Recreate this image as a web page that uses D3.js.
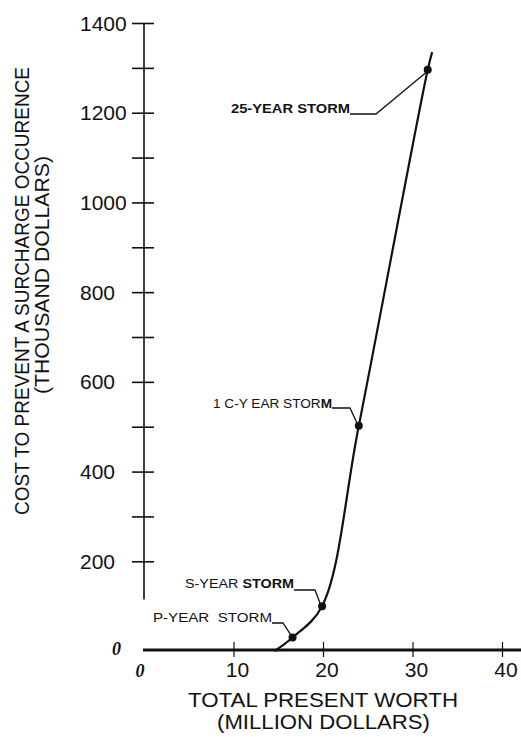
<!DOCTYPE html>
<html>
<head>
<meta charset="utf-8">
<script src="https://cdn.jsdelivr.net/npm/d3@7"></script>
<style>
  html, body { margin: 0; padding: 0; background: #fff; }
  svg { display: block; }
  text { font-family: "Liberation Sans", Arial, sans-serif; fill: #111; }
</style>
</head>
<body>
<svg id="chart" width="521" height="737"></svg>
<script>
// ---- data ----
const stormLabels = ["P-YEAR  STORM", "S-YEAR STORM", "1 C-Y EAR STORM", "25-YEAR STORM"];
const stormWorth = [16.6, 19.9, 24.0, 31.7];      // million dollars
const stormCost = [30, 100, 502, 1296];           // thousand dollars
const curveWorth = [14.6, 16.6, 19.9, 24.0, 31.7, 32.2];
const curveCost = [0, 30, 100, 502, 1296, 1335];
const xTickValues = [10, 20, 30, 40];
const yTickLabels = [200, 400, 600, 800, 1000, 1200, 1400];
const yTickMarks = [200, 300, 400, 500, 600, 700, 800, 900, 1000, 1100, 1200, 1300, 1400];
const xTitle = ["TOTAL PRESENT WORTH", "(MILLION DOLLARS)"];
const yTitle = ["COST TO PREVENT A SURCHARGE OCCURENCE", "(THOUSAND DOLLARS)"];

// ---- layout ----
const svg = d3.select("#chart");
const x = d3.scaleLinear().domain([0, 40]).range([144, 502]);
const y = d3.scaleLinear().domain([0, 1400]).range([651, 23]);

// label layout: text left x, baseline y, text length, elbow end x/y
const labelLayout = [
  { tx: 153, ty: 622, len: 119, ex: 283, ey: 623 },
  { tx: 185, ty: 588, len: 109, ex: 315, ey: 590 },
  { tx: 213, ty: 408, len: 119, ex: 350, ey: 408 },
  { tx: 231, ty: 113, len: 119, ex: 376, ey: 114 }
];

// ---- y axis ----
const yAxis = svg.append("g").attr("transform", `translate(${x(0)},0)`)
  .call(d3.axisLeft(y).tickValues(yTickMarks).tickSize(0).tickFormat(""));
yAxis.select(".domain").remove();
yAxis.append("line")
  .attr("x1", 0).attr("x2", 0)
  .attr("y1", y(1400)).attr("y2", y(115))
  .attr("stroke", "#111").attr("stroke-width", 1.6);
yAxis.selectAll(".tick line")
  .attr("x1", -12).attr("x2", 10)
  .attr("stroke", "#111").attr("stroke-width", 1.6);

svg.append("g").selectAll("text").data(yTickLabels).join("text")
  .attr("x", 80).attr("y", d => y(d) + 7.5)
  .attr("font-size", 21)
  .text(d => d);

// ---- x axis ----
svg.append("line")
  .attr("x1", x(0) - 1).attr("x2", 521)
  .attr("y1", y(0) - 1).attr("y2", y(0) - 1)
  .attr("stroke", "#111").attr("stroke-width", 3);
const xAxis = svg.append("g").attr("transform", `translate(0,${y(0) - 1})`)
  .call(d3.axisBottom(x).tickValues(xTickValues).tickSize(0).tickFormat(""));
xAxis.select(".domain").remove();
xAxis.selectAll(".tick line")
  .attr("y1", -8).attr("y2", 7)
  .attr("stroke", "#111").attr("stroke-width", 1.2);
svg.append("g").selectAll("text").data(xTickValues).join("text")
  .attr("x", d => x(d) + 4).attr("y", 677)
  .attr("text-anchor", "middle").attr("font-size", 21)
  .text(d => d);

// italic zero labels
svg.append("text").attr("x", 116.5).attr("y", 655)
  .attr("text-anchor", "middle")
  .style("font-family", "'Liberation Serif', 'DejaVu Serif', serif")
  .attr("font-style", "italic").attr("font-weight", "bold").attr("font-size", 18)
  .text("0");
svg.append("text").attr("x", 140).attr("y", 677)
  .attr("text-anchor", "middle")
  .style("font-family", "'Liberation Serif', 'DejaVu Serif', serif")
  .attr("font-style", "italic").attr("font-weight", "bold").attr("font-size", 18)
  .text("0");

// ---- titles ----
svg.append("text").attr("x", 323).attr("y", 707)
  .attr("text-anchor", "middle").attr("font-size", 20)
  .attr("textLength", 270).attr("lengthAdjust", "spacingAndGlyphs")
  .text(xTitle[0]);
svg.append("text").attr("x", 323.5).attr("y", 729)
  .attr("text-anchor", "middle").attr("font-size", 20)
  .attr("textLength", 213).attr("lengthAdjust", "spacingAndGlyphs")
  .text(xTitle[1]);

svg.append("text").attr("transform", "translate(29,291) rotate(-90)")
  .attr("text-anchor", "middle").attr("font-size", 20)
  .attr("textLength", 448).attr("lengthAdjust", "spacingAndGlyphs")
  .text(yTitle[0]);
svg.append("text").attr("transform", "translate(49,275) rotate(-90)")
  .attr("text-anchor", "middle").attr("font-size", 20)
  .attr("textLength", 238).attr("lengthAdjust", "spacingAndGlyphs")
  .text(yTitle[1]);

// ---- curve ----
const curveData = curveWorth.map((w, i) => [w, curveCost[i]]);
svg.append("path")
  .datum(curveData)
  .attr("fill", "none").attr("stroke", "#111").attr("stroke-width", 2.2)
  .attr("d", d3.line().x(d => x(d[0])).y(d => y(d[1])).curve(d3.curveCatmullRom.alpha(0.5)));

// ---- storm points ----
const storms = stormLabels.map((l, i) => ({ label: l, w: stormWorth[i], c: stormCost[i], lay: labelLayout[i] }));
svg.append("g").selectAll("circle").data(storms).join("circle")
  .attr("cx", d => x(d.w)).attr("cy", d => y(d.c)).attr("r", 4)
  .attr("fill", "#111");

// leader lines
svg.append("g").selectAll("polyline").data(storms).join("polyline")
  .attr("fill", "none").attr("stroke", "#111").attr("stroke-width", 1.3)
  .attr("points", d => {
    const px = x(d.w), py = y(d.c);
    return `${d.lay.tx + d.lay.len},${d.lay.ey} ${d.lay.ex},${d.lay.ey} ${px - 2},${py + (py > d.lay.ey ? -3 : 3)}`;
  });

// labels
const lbl = svg.append("g").selectAll("text").data(storms).join("text")
  .attr("x", d => d.lay.tx).attr("y", d => d.lay.ty)
  .attr("font-size", 12.5)
  .attr("textLength", d => d.lay.len).attr("lengthAdjust", "spacingAndGlyphs")
  .style("white-space", "pre");
lbl.each(function(d, i) {
  const t = d3.select(this);
  if (i === 0) {
    t.append("tspan").text(d.label);
  } else if (i === 1) {
    t.append("tspan").text("S-YEAR ");
    t.append("tspan").attr("font-weight", "bold").text("STORM");
  } else if (i === 2) {
    t.append("tspan").text("1 C-Y EAR STOR");
    t.append("tspan").attr("font-weight", "bold").text("M");
  } else {
    t.attr("font-weight", "bold").text(d.label);
  }
});
</script>
</body>
</html>
